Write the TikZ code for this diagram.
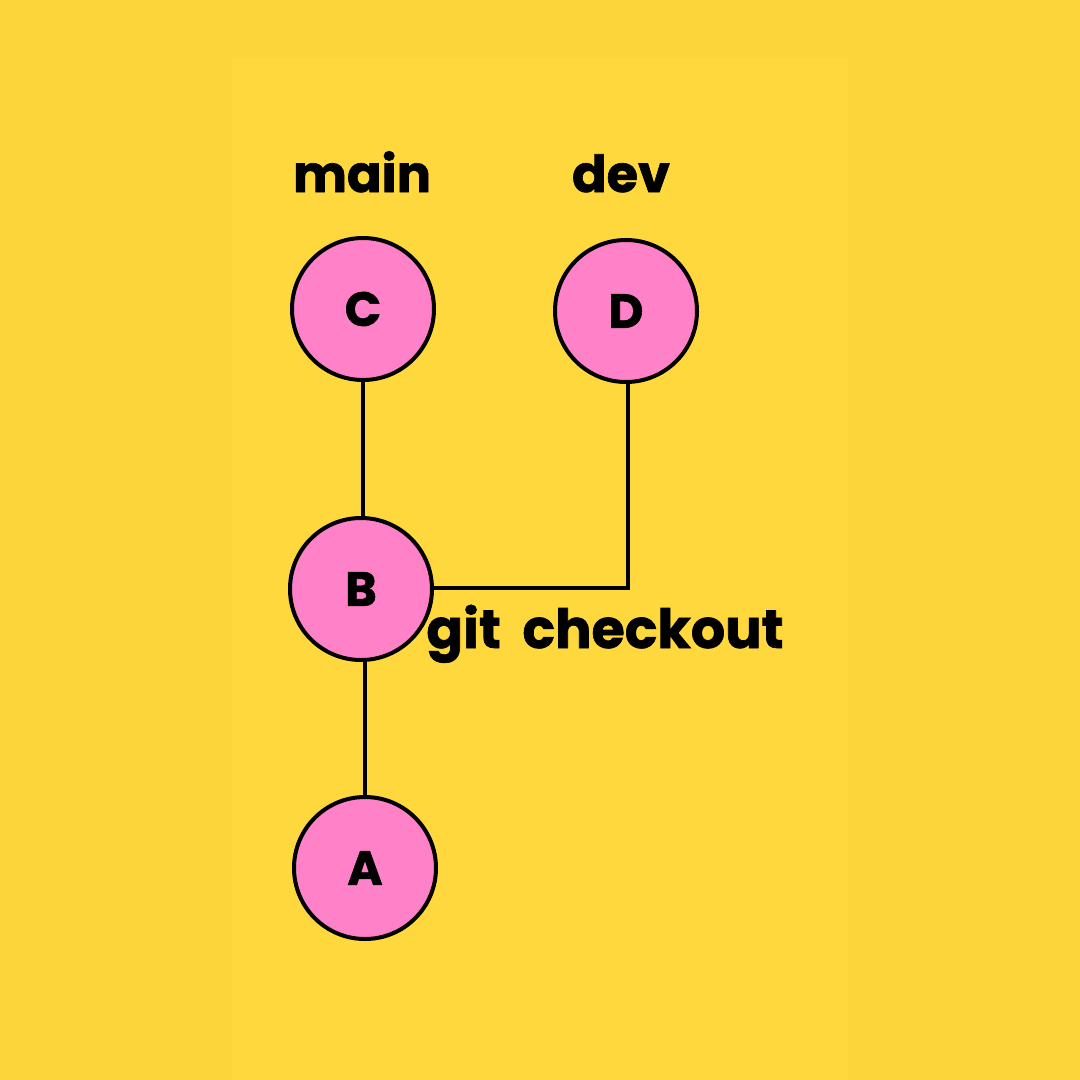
\documentclass[tikz,border=0pt]{standalone}
\usepackage{fontspec}
\setmainfont{Poppins}
\definecolor{bgout}{HTML}{FCD53B}
\definecolor{bgin}{HTML}{FED83C}
\definecolor{pinkc}{HTML}{FF82C8}
\newcommand{\heavyfont}[1]{\fontsize{#1}{#1}\selectfont\bfseries\addfontfeatures{FakeBold=1.2}}
\tikzset{
  commit/.style={circle, draw=black, line width=4pt, fill=pinkc, minimum size=142pt, inner sep=0pt,
    font=\heavyfont{48}},
  lbl/.style={anchor=base, inner sep=0pt, font=\heavyfont{51}},
  biglbl/.style={anchor=base, inner sep=0pt, font=\heavyfont{54}},
  link/.style={line width=3.8pt, draw=black}
}
\begin{document}
\begin{tikzpicture}[x=1pt,y=-1pt]
\fill[bgout] (0,0) rectangle (1080,1080);
\fill[bgin] (232,58) rectangle (848,1080);
\useasboundingbox (0,0) rectangle (1080,1080);
\coordinate (corner) at (628,588);
\node[commit] (C) at (363,309) {C};
\node[commit] (D) at (626,311) {D};
\node[commit] (B) at (361,589) {B};
\node[commit] (A) at (365,868) {A};
\draw[link] (C.south) -- (C.south |- B.north);
\draw[link] (A.north) -- (A.north |- B.south);
\draw[link] (B.east |- corner) -- (corner) -- (D.south -| corner);
\node[lbl] (main) at (362,192) {main};
\node[lbl] (dev) at (621,192) {dev};
\node[biglbl] (gc) at (605,648) {git\hspace{0.4em}checkout};
\end{tikzpicture}
\end{document}
